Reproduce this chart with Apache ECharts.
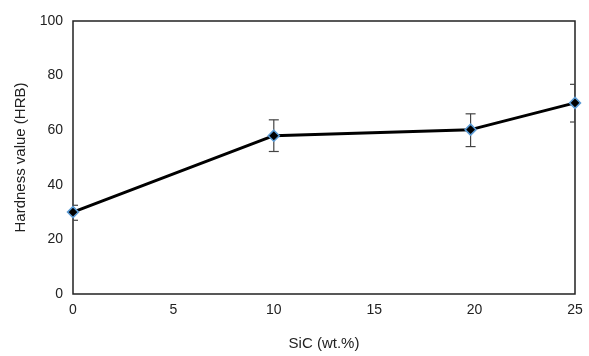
<!DOCTYPE html>
<html>
<head>
<meta charset="utf-8">
<script src="https://cdn.jsdelivr.net/npm/echarts@6/dist/echarts.min.js"></script>
<style>
  html, body { margin: 0; padding: 0; background: #fff; }
  #chart { width: 589px; height: 356px; }
</style>
</head>
<body>
<div id="chart"></div>
<script>
// SiC content (wt.%) and hardness readings
var sicContent = [0, 10, 19.8, 25]
var hardness = [30, 58, 60.2, 70]
var errLow = [27, 52.2, 54, 63]
var errHigh = [32.5, 63.8, 66, 76.8]
var xTicks = [0, 5, 10, 15, 20, 25]
var yTicks = [0, 20, 40, 60, 80, 100]

var chart = echarts.init(document.getElementById('chart'))

var lineData = sicContent.map(function (x, i) {
  return [x, hardness[i]]
})
var errData = sicContent.map(function (x, i) {
  return [x, errLow[i], errHigh[i]]
})

var fontFamily = 'Liberation Sans, Arial, sans-serif'
var tickFont = { color: '#222', fontSize: 14, fontFamily: fontFamily }
var nameFont = { color: '#222', fontSize: 15, fontFamily: fontFamily }

var option = {
  animation: false,
  grid: {
    left: 73,
    right: 14,
    top: 21,
    bottom: 61,
    show: true,
    borderColor: '#222',
    borderWidth: 1.5
  },
  xAxis: {
    type: 'value',
    min: xTicks[0],
    max: xTicks[xTicks.length - 1],
    interval: 5,
    name: 'SiC (wt.%)',
    nameLocation: 'middle',
    nameGap: 42,
    nameTextStyle: nameFont,
    axisLine: { show: false },
    axisTick: { show: false },
    splitLine: { show: false },
    axisLabel: Object.assign({ margin: 9 }, tickFont)
  },
  yAxis: {
    type: 'value',
    min: yTicks[0],
    max: yTicks[yTicks.length - 1],
    interval: 20,
    name: 'Hardness value (HRB)',
    nameLocation: 'middle',
    nameGap: 43,
    nameTextStyle: nameFont,
    axisLine: { show: false },
    axisTick: { show: false },
    splitLine: { show: false },
    axisLabel: Object.assign({ margin: 10 }, tickFont)
  },
  series: [
    {
      type: 'custom',
      name: 'error',
      clip: true,
      z: 1,
      renderItem: function (params, api) {
        var x = api.value(0)
        var lo = api.coord([x, api.value(1)])
        var hi = api.coord([x, api.value(2)])
        var w = 5
        var st = { stroke: '#444', lineWidth: 1.2 }
        return {
          type: 'group',
          children: [
            { type: 'line', shape: { x1: lo[0], y1: lo[1], x2: hi[0], y2: hi[1] }, style: st },
            { type: 'line', shape: { x1: lo[0] - w, y1: lo[1], x2: lo[0] + w, y2: lo[1] }, style: st },
            { type: 'line', shape: { x1: hi[0] - w, y1: hi[1], x2: hi[0] + w, y2: hi[1] }, style: st }
          ]
        }
      },
      encode: { x: 0, y: [1, 2] },
      data: errData
    },
    {
      type: 'line',
      name: 'hardness',
      z: 3,
      symbol: 'diamond',
      symbolSize: 11,
      lineStyle: { color: '#000', width: 3 },
      itemStyle: { color: '#000', borderColor: '#5b9bd5', borderWidth: 1.5 },
      data: lineData
    }
  ]
}

chart.setOption(option)
</script>
</body>
</html>
